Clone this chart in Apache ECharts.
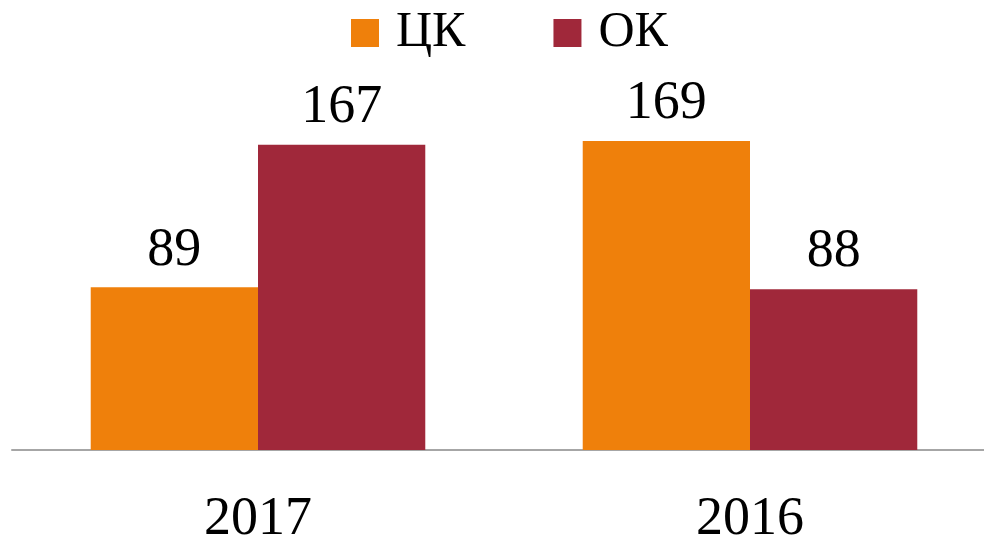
<!DOCTYPE html>
<html>
<head>
<meta charset="utf-8">
<script src="https://cdn.jsdelivr.net/npm/echarts@6/dist/echarts.min.js"></script>
<style>
    html, body { margin: 0; padding: 0; background: #fff; }
    #main { width: 984px; height: 539px; }
</style>
</head>
<body>
<div id="main"></div>
<script>
    // данные
    var years = ['2017', '2016'];
    var seriesNames = ['ЦК', 'ОК'];
    var ckValues = [89, 169];
    var okValues = [167, 88];

    var font = '"Liberation Serif", serif';

    var myChart = echarts.init(document.getElementById('main'));
    var option = {
        animation: false,
        color: ['#EF800B', '#A0283A'],
        legend: {
            top: 3,
            left: 346,
            itemWidth: 28,
            itemHeight: 28,
            itemGap: 88,
            icon: 'rect',
            data: seriesNames,
            textStyle: { fontFamily: font, fontSize: 50, color: '#000', padding: [0, 0, 0, 12] }
        },
        grid: { left: 12, width: 984, top: 121, bottom: 89, outerBoundsMode: 'none', containLabel: false },
        xAxis: {
            type: 'category',
            data: years,
            axisLine: { lineStyle: { color: '#A6A6A6', width: 2 } },
            axisTick: { show: false },
            axisLabel: { fontFamily: font, fontSize: 54, color: '#000', margin: 43 }
        },
        yAxis: {
            type: 'value',
            min: 0,
            max: 180,
            show: false,
            splitLine: { show: false }
        },
        series: [
            {
                name: seriesNames[0],
                type: 'bar',
                data: ckValues,
                barGap: '0%',
                barCategoryGap: '32%',
                label: { show: true, position: 'top', distance: 10, fontFamily: font, fontSize: 54, color: '#000' }
            },
            {
                name: seriesNames[1],
                type: 'bar',
                data: okValues,
                barGap: '0%',
                barCategoryGap: '32%',
                label: { show: true, position: 'top', distance: 10, fontFamily: font, fontSize: 54, color: '#000' }
            }
        ]
    };
    myChart.setOption(option);
</script>
</body>
</html>
